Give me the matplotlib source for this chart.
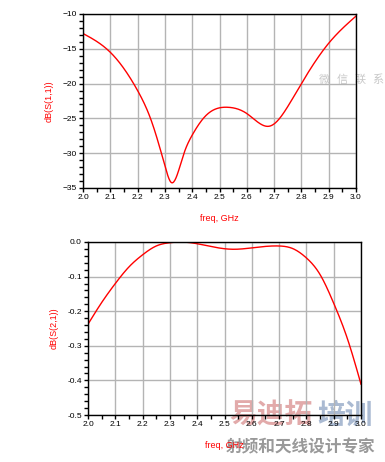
import numpy as np
import matplotlib
matplotlib.use('Agg')
import matplotlib.pyplot as plt
from matplotlib.ticker import MultipleLocator

plt.rcParams['font.family'] = ['Liberation Sans', 'Noto Sans CJK SC', 'DejaVu Sans']

# S(1,1)
freq_s11 = [2.0, 2.1, 2.2, 2.25, 2.3, 2.323, 2.351, 2.37, 2.4, 2.45, 2.53,
            2.6, 2.685, 2.75, 2.8, 2.9, 3.0]
s11 = [-12.8, -15.5, -21.0, -25.3, -31.8, -34.2, -32.4, -30.0, -27.4, -24.6,
       -23.4, -24.3, -26.1, -23.3, -20.0, -14.2, -10.3]

# S(2,1)
freq_s21 = [2.0, 2.05, 2.1, 2.15, 2.2, 2.25, 2.3, 2.34, 2.4, 2.45, 2.53,
            2.6, 2.7, 2.75, 2.8, 2.85, 2.9, 2.95, 3.0]
s21 = [-0.2375, -0.175, -0.120, -0.072, -0.037, -0.0115, -0.002, 0.0, -0.005,
       -0.013, -0.021, -0.017, -0.0115, -0.019, -0.046, -0.094, -0.177,
       -0.279, -0.411]


def spline(x, y, n=500):
    # natural cubic spline through the read points
    x = np.asarray(x, float)
    y = np.asarray(y, float)
    k = len(x)
    h = np.diff(x)
    A = np.zeros((k, k))
    b = np.zeros(k)
    A[0, 0] = A[-1, -1] = 1
    for i in range(1, k - 1):
        A[i, i - 1] = h[i - 1]
        A[i, i] = 2 * (h[i - 1] + h[i])
        A[i, i + 1] = h[i]
        b[i] = 6 * ((y[i + 1] - y[i]) / h[i] - (y[i] - y[i - 1]) / h[i - 1])
    M = np.linalg.solve(A, b)
    xs = np.linspace(x[0], x[-1], n)
    idx = np.clip(np.searchsorted(x, xs, side='right') - 1, 0, k - 2)
    x0, x1 = x[idx], x[idx + 1]
    hh = x1 - x0
    a = (x1 - xs) / hh
    c = (xs - x0) / hh
    ys = (a * y[idx] + c * y[idx + 1]
          + ((a**3 - a) * M[idx] + (c**3 - c) * M[idx + 1]) * hh**2 / 6)
    return xs, ys


W, H = 385, 462
fig = plt.figure(figsize=(W / 100, H / 100), dpi=100)


def style(ax, ylim, ymajor, yminor, ylabel):
    ax.set_xlim(2.0, 3.0)
    ax.set_ylim(*ylim)
    ax.patch.set_facecolor('none')
    ax.xaxis.set_major_locator(MultipleLocator(0.1))
    ax.xaxis.set_minor_locator(MultipleLocator(0.05))
    ax.yaxis.set_major_locator(MultipleLocator(ymajor))
    ax.yaxis.set_minor_locator(MultipleLocator(yminor))
    ax.grid(True, which='major', color='#b4b4b4', linewidth=1)
    ax.tick_params(which='both', direction='out', length=3, width=1,
                   labelsize=6, pad=1.5, color='black')
    for s in ax.spines.values():
        s.set_linewidth(1)
        s.set_color('black')
    ax.set_ylabel(ylabel, color='red', fontsize=6.5, labelpad=6)
    ax.set_xlabel('freq, GHz', color='red', fontsize=6.5, labelpad=9)
    ax.set_xticklabels(['%.1f' % v for v in ax.get_xticks()])


# top axes: x 83..356, y 14..188
ax1 = fig.add_axes([83 / W, 1 - 188 / H, (356 - 83) / W, (188 - 14) / H])
xs, ys = spline(freq_s11, s11)
ax1.plot(xs, ys, color='red', linewidth=1)
ax1.set_xticks(np.round(np.arange(2.0, 3.01, 0.1), 1))
style(ax1, (-35, -10), 5, 1, 'dB(S(1,1))')

# bottom axes: x 88..361, y 242..415
ax2 = fig.add_axes([88 / W, 1 - 415 / H, (361 - 88) / W, (415 - 242) / H])
xs, ys = spline(freq_s21, s21)
ax2.plot(xs, ys, color='red', linewidth=1)
ax2.set_xticks(np.round(np.arange(2.0, 3.01, 0.1), 1))
style(ax2, (-0.5, 0.0), 0.1, 0.02, 'dB(S(2,1))')
yt = np.round(np.arange(-0.5, 0.01, 0.1), 1)
ax2.set_yticks(yt)
ax2.set_yticklabels(['%.1f' % abs(v) if v == 0 else '%.1f' % v for v in yt])

# watermarks, kept underneath the plot contents
cjk = ['Noto Sans CJK SC']
for i, ch in enumerate('微信联系'):
    fig.text((324 + i * 18) / W, 1 - 80 / H, ch, fontsize=8, color='#c8c8c8',
             ha='center', va='center', family=cjk, zorder=-1)
fig.text(271 / W, 1 - 416 / H, '易迪拓', fontsize=20, color='#e2aaaa',
         ha='center', va='center', weight='bold', family=cjk, zorder=-1)
fig.text(345 / W, 1 - 416 / H, '培训', fontsize=20, color='#aabad2',
         ha='center', va='center', weight='bold', family=cjk, zorder=-1)
fig.text(301 / W, 1 - 447 / H, '射频和天线设计专家', fontsize=12, color='#999999',
         ha='center', va='center', weight='bold', family=cjk, zorder=-1)

fig.savefig('out.png', dpi=100)
